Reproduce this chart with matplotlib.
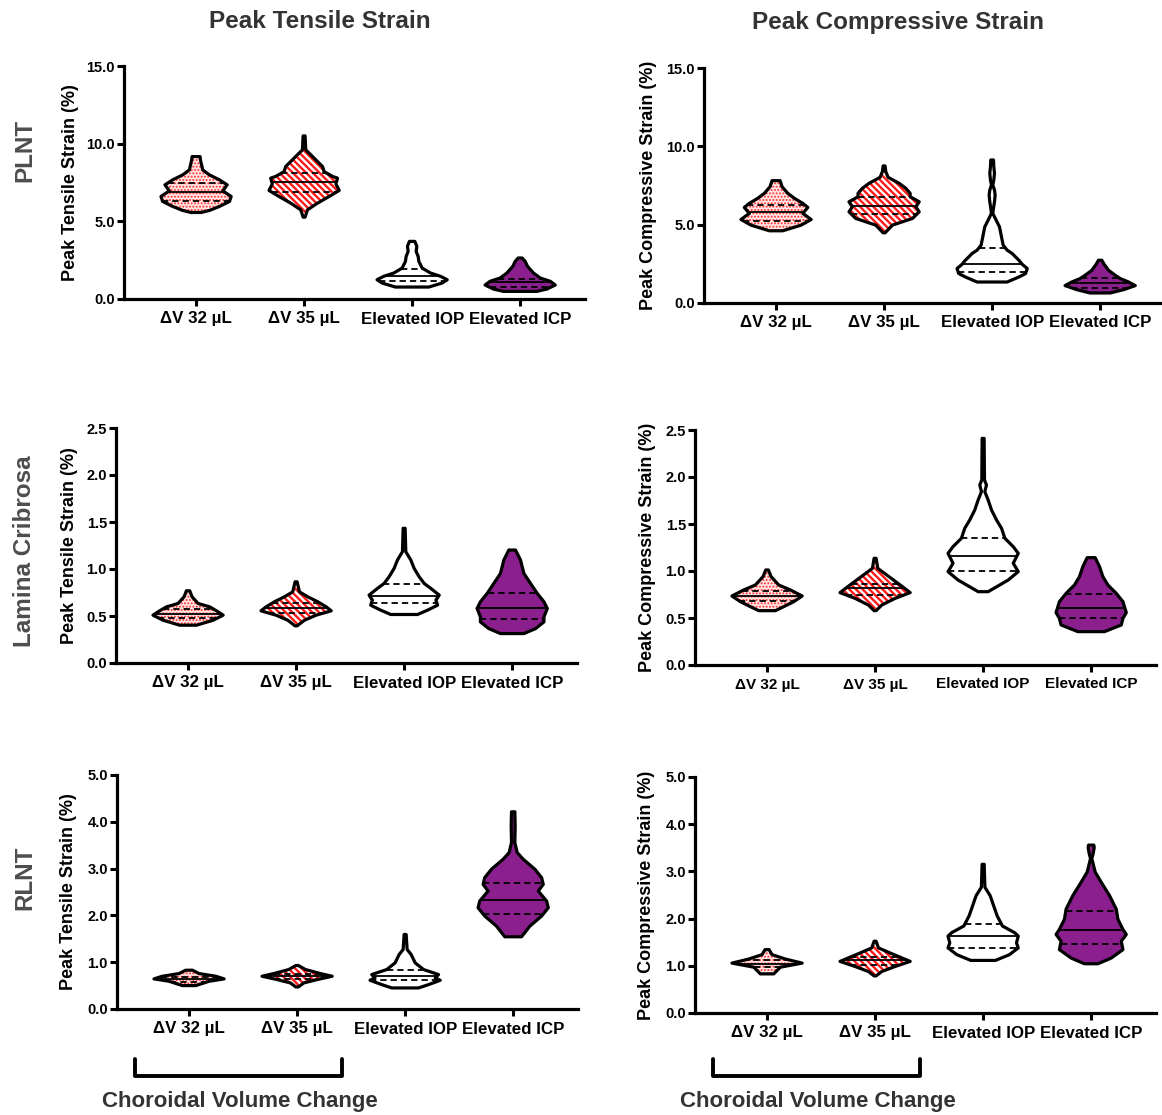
import numpy as np
import matplotlib
matplotlib.use("Agg")
import matplotlib.pyplot as plt
import matplotlib.transforms as mtransforms
from matplotlib.ticker import FormatStrFormatter

plt.rcParams['font.family'] = ['Liberation Sans', 'DejaVu Sans']
plt.rcParams['font.weight'] = 'bold'

# categories
groups = ["ΔV 32 µL", "ΔV 35 µL", "Elevated IOP", "Elevated ICP"]

# ---- violin outlines: strain values (y) and relative density (d)
# ---- PLNT, peak tensile strain
plnt_ten_y = [
    [5.57, 5.70, 5.96, 6.28, 6.60, 6.96, 7.35, 7.67, 7.99, 8.31, 8.96, 9.17],
    [5.27, 5.74, 6.17, 6.60, 6.99, 7.41, 7.78, 7.89, 8.20, 8.53, 8.96, 9.39, 9.60, 10.5],
    [0.77, 1.03, 1.24, 1.46, 1.67, 1.99, 2.42, 2.74, 3.06, 3.39, 3.71],
    [0.49, 0.64, 0.90, 1.14, 1.35, 1.67, 2.10, 2.42, 2.64],
]
plnt_ten_d = [
    [15, 40, 70, 100, 105, 80, 93, 70, 40, 20, 13, 12],
    [3, 10, 40, 75, 105, 95, 100, 85, 60, 55, 35, 15, 5, 3],
    [50, 90, 105, 85, 55, 30, 20, 18, 12, 14, 8],
    [50, 80, 105, 90, 60, 40, 22, 15, 6],
]
plnt_ten_q = [(6.32, 6.92, 7.46), (6.88, 7.52, 8.10), (1.16, 1.46, 1.95), (0.75, 1.07, 1.31)]

# ---- PLNT, peak compressive strain
plnt_com_y = [
    [4.61, 4.97, 5.33, 5.72, 6.10, 6.36, 6.68, 7.00, 7.42, 7.81],
    [4.48, 4.97, 5.40, 5.82, 6.14, 6.46, 6.78, 7.00, 7.32, 7.64, 8.02, 8.39, 8.75],
    [1.34, 1.66, 1.88, 2.20, 2.47, 2.73, 2.94, 3.16, 3.37, 3.69, 4.22, 4.86, 5.29,
     5.72, 6.04, 6.46, 6.89, 7.21, 7.53, 7.85, 8.28, 8.70, 9.13],
    [0.64, 0.85, 1.11, 1.34, 1.56, 1.77, 2.09, 2.47, 2.73],
]
plnt_com_d = [
    [20, 75, 105, 80, 95, 80, 55, 35, 18, 12],
    [3, 25, 85, 105, 95, 105, 78, 78, 65, 45, 12, 5, 3],
    [45, 80, 100, 105, 90, 80, 70, 60, 45, 33, 28, 22, 12,
     2, 4, 7, 9, 7, 2, 5, 7, 5, 4],
    [30, 70, 105, 85, 60, 45, 25, 12, 5],
]
plnt_com_q = [(5.25, 5.78, 6.25), (5.68, 6.21, 6.78), (1.98, 2.52, 3.54), (0.98, 1.30, 1.60)]

# ---- Lamina cribrosa, tensile
lc_ten_y = [
    [0.402, 0.455, 0.509, 0.544, 0.597, 0.633, 0.704, 0.768],
    [0.395, 0.455, 0.509, 0.555, 0.597, 0.651, 0.704, 0.757, 0.864],
    [0.516, 0.562, 0.615, 0.669, 0.722, 0.793, 0.846, 0.917, 1.006, 1.095, 1.184, 1.433],
    [0.313, 0.366, 0.437, 0.491, 0.580, 0.651, 0.740, 0.846, 0.953, 1.095, 1.202],
]
lc_ten_d = [
    [25, 75, 105, 90, 65, 30, 12, 5],
    [3, 25, 60, 105, 90, 65, 35, 10, 3],
    [40, 70, 100, 95, 105, 80, 60, 45, 30, 20, 5, 3],
    [35, 70, 95, 95, 105, 95, 75, 55, 35, 25, 10],
]
lc_ten_q = [(0.484, 0.526, 0.573), (0.533, 0.580, 0.633), (0.633, 0.715, 0.836), (0.473, 0.580, 0.747)]

# ---- Lamina cribrosa, compressive
lc_com_y = [
    [0.578, 0.621, 0.674, 0.734, 0.798, 0.851, 0.940, 1.011],
    [0.578, 0.638, 0.709, 0.770, 0.851, 0.904, 0.957, 1.028, 1.135],
    [0.780, 0.904, 0.993, 1.082, 1.188, 1.259, 1.348, 1.454, 1.543, 1.649, 1.755,
     1.844, 1.915, 1.968, 2.411],
    [0.355, 0.426, 0.496, 0.557, 0.674, 0.762, 0.851, 0.940, 1.046, 1.142],
]
lc_com_d = [
    [25, 50, 80, 105, 70, 35, 12, 4],
    [3, 20, 60, 105, 75, 55, 35, 8, 3],
    [15, 75, 105, 90, 105, 90, 65, 55, 40, 25, 15, 5, 10, 4, 3],
    [40, 90, 95, 105, 95, 75, 50, 35, 25, 12],
]
lc_com_q = [(0.684, 0.734, 0.791), (0.745, 0.816, 0.862), (1.000, 1.160, 1.348), (0.500, 0.610, 0.752)]

# ---- RLNT, tensile
rlnt_ten_y = [
    [0.500, 0.593, 0.643, 0.700, 0.757, 0.829],
    [0.471, 0.557, 0.629, 0.700, 0.757, 0.843, 0.929],
    [0.450, 0.521, 0.614, 0.664, 0.736, 0.843, 0.986, 1.164, 1.271, 1.593],
    [1.543, 1.771, 1.986, 2.164, 2.307, 2.521, 2.664, 2.807, 2.986, 3.200, 3.343,
     3.557, 3.914, 4.214],
]
rlnt_ten_d = [
    [20, 60, 105, 80, 30, 10],
    [4, 20, 60, 105, 70, 25, 4],
    [40, 70, 105, 90, 100, 55, 30, 18, 6, 3],
    [25, 50, 85, 105, 100, 75, 90, 85, 65, 30, 12, 5, 6, 5],
]
rlnt_ten_q = [(0.586, 0.643, 0.693), (0.643, 0.700, 0.757), (0.614, 0.714, 0.843), (2.029, 2.321, 2.693)]

# ---- RLNT, compressive
rlnt_com_y = [
    [0.829, 0.971, 1.057, 1.143, 1.236, 1.343],
    [0.786, 0.879, 0.986, 1.093, 1.271, 1.379, 1.521],
    [1.114, 1.236, 1.379, 1.486, 1.629, 1.700, 1.843, 2.057, 2.271, 2.486, 2.664, 3.150],
    [1.043, 1.164, 1.343, 1.521, 1.664, 1.771, 1.986, 2.200, 2.486, 2.771, 2.986,
     3.271, 3.379, 3.500, 3.557],
]
rlnt_com_d = [
    [20, 40, 105, 55, 15, 6],
    [3, 20, 60, 105, 45, 10, 3],
    [35, 75, 100, 95, 100, 90, 55, 40, 30, 20, 5, 3],
    [20, 60, 95, 90, 105, 95, 80, 75, 55, 30, 12, 2, 6, 9, 8],
]
rlnt_com_q = [(0.971, 1.043, 1.114), (1.021, 1.129, 1.186), (1.379, 1.629, 1.893), (1.471, 1.750, 2.164)]

# ---- styling
BSL = chr(92)
face_cols = ['#ffe4e4', 'white', 'white', '#8c1f8e']
hatch_cols = ['#ff2a2a', '#ff1a1a', 'white', '#8c1f8e']
hatches = ['.....', BSL * 5, None, None]
hatch_lw = [0.9, 1.7, 1.0, 1.0]
WIDTH = 0.65


def draw_panel(ax, ys, ds, quarts):
    pos = np.arange(1, 5)
    for i in range(4):
        y = np.array(ys[i], float)
        d = np.array(ds[i], float)
        q = quarts[i]
        st = dict(coords=y, vals=d, mean=q[1], median=q[1], min=y[0], max=y[-1])
        with plt.rc_context({'hatch.color': hatch_cols[i], 'hatch.linewidth': hatch_lw[i]}):
            fill = ax.violin([st], positions=[pos[i]], widths=WIDTH, showextrema=False)
            b = fill['bodies'][0]
            b.set_facecolor(face_cols[i])
            b.set_linewidth(0)
            b.set_alpha(1)
            if hatches[i]:
                b.set_hatch(hatches[i])
        # quartiles (dashed) and median (solid), spanning the violin at that level
        for k, val in enumerate(q):
            hw = np.interp(val, y, d) / d.max() * WIDTH / 2
            ax.hlines(val, pos[i] - hw, pos[i] + hw, colors='black',
                      linewidth=1.3, linestyles='solid' if k == 1 else (0, (3.5, 2.2)),
                      zorder=3)
        out = ax.violin([st], positions=[pos[i]], widths=WIDTH, showextrema=False)
        ob = out['bodies'][0]
        ob.set_facecolor('none')
        ob.set_edgecolor('black')
        ob.set_linewidth(2.3)
        ob.set_alpha(1)
        ob.set_zorder(4)


fig = plt.figure(figsize=(11.62, 11.15), dpi=100)
FW, FH = 1162.0, 1115.0


def add_axes_px(left, top, bottom, width=461):
    return fig.add_axes([left / FW, 1 - bottom / FH, width / FW, (bottom - top) / FH])


panels = [
    (124, 66, 299, plnt_ten_y, plnt_ten_d, plnt_ten_q, 15.0, 5.0, 'Peak Tensile Strain (%)', -0.098, 12.2),
    (704, 68, 303, plnt_com_y, plnt_com_d, plnt_com_q, 15.0, 5.0, 'Peak Compressive Strain (%)', -0.102, 12.2),
    (116, 428, 663, lc_ten_y, lc_ten_d, lc_ten_q, 2.5, 0.5, 'Peak Tensile Strain (%)', -0.083, 12.2),
    (695, 430, 665, lc_com_y, lc_com_d, lc_com_q, 2.5, 0.5, 'Peak Compressive Strain (%)', -0.085, 11),
    (117, 775, 1009, rlnt_ten_y, rlnt_ten_d, rlnt_ten_q, 5.0, 1.0, 'Peak Tensile Strain (%)', -0.087, 12.2),
    (695, 777, 1013, rlnt_com_y, rlnt_com_d, rlnt_com_q, 5.0, 1.0, 'Peak Compressive Strain (%)', -0.087, 12.2),
]

axes = []
for left, top, bottom, ys, ds, qs, ymax, step, ylab, lx, xfs in panels:
    ax = add_axes_px(left, top, bottom)
    draw_panel(ax, ys, ds, qs)
    ax.set_xlim(0.333, 4.6)
    ax.set_ylim(0, ymax)
    ax.set_xticks(np.arange(1, 5), groups, fontsize=xfs, fontweight='bold')
    ax.set_yticks(np.arange(0, ymax + step / 2, step))
    ax.yaxis.set_major_formatter(FormatStrFormatter('%.1f'))
    ax.tick_params(axis='y', labelsize=10.5, length=5, width=2.2, pad=1.5)
    ax.tick_params(axis='x', length=5, width=2.2, pad=4)
    for s in ['top', 'right']:
        ax.spines[s].set_visible(False)
    for s in ['left', 'bottom']:
        ax.spines[s].set_linewidth(2.3)
    ax.set_ylabel(ylab, fontsize=13, fontweight='bold')
    ax.yaxis.set_label_coords(lx, 0.5)
    axes.append(ax)

# column titles
fig.text(320 / FW, 1 - 22 / FH, 'Peak Tensile Strain', ha='center', va='center',
         fontsize=17.5, fontweight='bold', color='#333333')
fig.text(898 / FW, 1 - 22 / FH, 'Peak Compressive Strain', ha='center', va='center',
         fontsize=17.5, fontweight='bold', color='#333333')

# row labels
for txt, yc in [('PLNT', 150), ('Lamina Cribrosa', 551), ('RLNT', 878)]:
    fig.text(25 / FW, 1 - yc / FH, txt, rotation=90, ha='center', va='center',
             fontsize=17.5, fontweight='bold', color='#4d4d4d')

# brackets under the choroidal volume change groups
for ax in axes[4:]:
    trans = mtransforms.blended_transform_factory(ax.transData, fig.transFigure)
    ax.plot([0.5, 0.5, 2.42, 2.42], [0.0502, 0.0350, 0.0350, 0.0502], transform=trans,
            clip_on=False, color='black', linewidth=2.8,
            solid_capstyle='round', solid_joinstyle='round')
    ax.text(1.47, 0.0117, 'Choroidal Volume Change', transform=trans, ha='center',
            va='center', fontsize=16, fontweight='bold', color='#333333')

fig.savefig('out.png', dpi=100)
